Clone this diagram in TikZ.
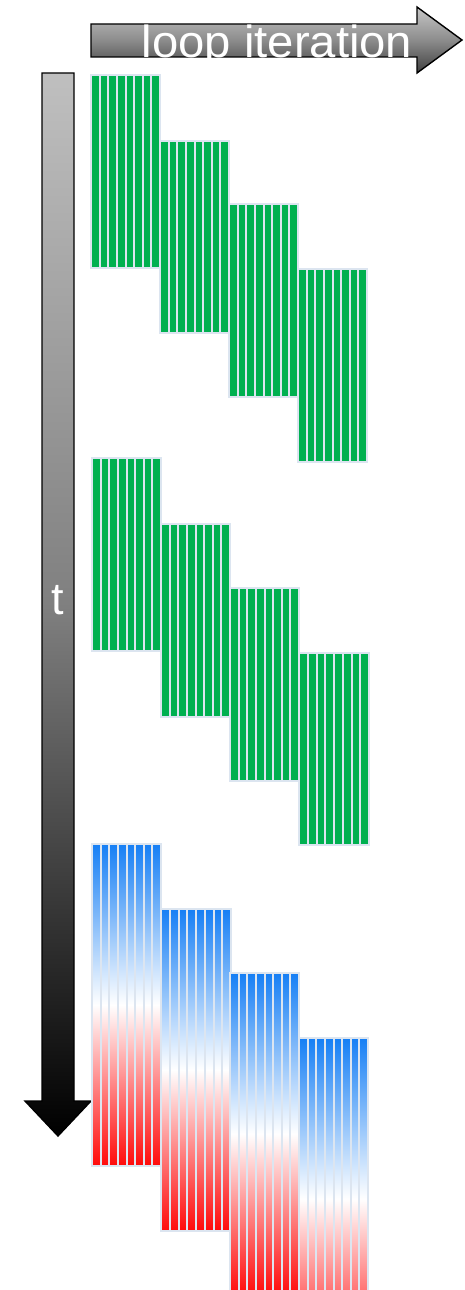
\documentclass[tikz,border=0pt]{standalone}
\usepackage{fontspec}
\setmainfont{Liberation Sans}
\definecolor{gapcol}{HTML}{DCE5F0}
\definecolor{barG}{HTML}{00B050}
\definecolor{barB}{HTML}{167FF5}
\definecolor{barR}{HTML}{FF0A0A}
\newcommand\drawblock[5]{%
  \pgfmathsetmacro\bw{(#3-#1)/8}%
  \foreach \i in {0,...,7}{%
    \path[#5] ({#1+\i*\bw},#2) rectangle ({#1+(\i+1)*\bw},#4);
  }%
}
\begin{document}
\begin{tikzpicture}[x=1pt,y=-1pt,
  bar/.style={draw=gapcol,line width=2pt},
  greenbar/.style={bar,fill=barG},
  gradbar/.style={bar,top color=barB,bottom color=barR,middle color=white},
  arrowshape/.style={draw=black,line width=1.4pt,line join=miter},
  bigtext/.style={text=white,font=\fontsize{45}{54}\selectfont,inner sep=0pt,anchor=base}]
\useasboundingbox (0,0) rectangle (464,1290);
\clip (0,0) rectangle (464,1290);
% time arrow
\path[arrowshape,top color=black!25,bottom color=black,middle color=black!50]
  (42,73) -- (74,73) -- (74,1101) -- (91,1101) -- (58,1136) -- (25,1101) -- (42,1101) -- cycle;
\node[bigtext] (t) at (58,614) {t};
% loop iteration arrow
\path[arrowshape,top color=black!22,bottom color=black!75,middle color=black!45]
  (91,24) -- (417,24) -- (417,7) -- (462,40) -- (417,73) -- (417,57) -- (91,57) -- cycle;
\node[bigtext,xscale=1.05] (loop) at (277,58) {loop iteration};
% group 1
\drawblock{91}{75}{160}{268}{greenbar}
\drawblock{160}{141}{229}{333}{greenbar}
\drawblock{229}{204}{298}{397}{greenbar}
\drawblock{298}{269}{367}{462}{greenbar}
% group 2
\drawblock{92}{458}{161}{651}{greenbar}
\drawblock{161}{524}{230}{717}{greenbar}
\drawblock{230}{588}{299}{781}{greenbar}
\drawblock{299}{653}{369}{845}{greenbar}
% group 3
\drawblock{92}{844}{161}{1166}{gradbar}
\drawblock{161}{909}{231}{1231}{gradbar}
\drawblock{230}{973}{299}{1295}{gradbar}
\drawblock{299}{1038}{368}{1360}{gradbar}
\end{tikzpicture}
\end{document}
